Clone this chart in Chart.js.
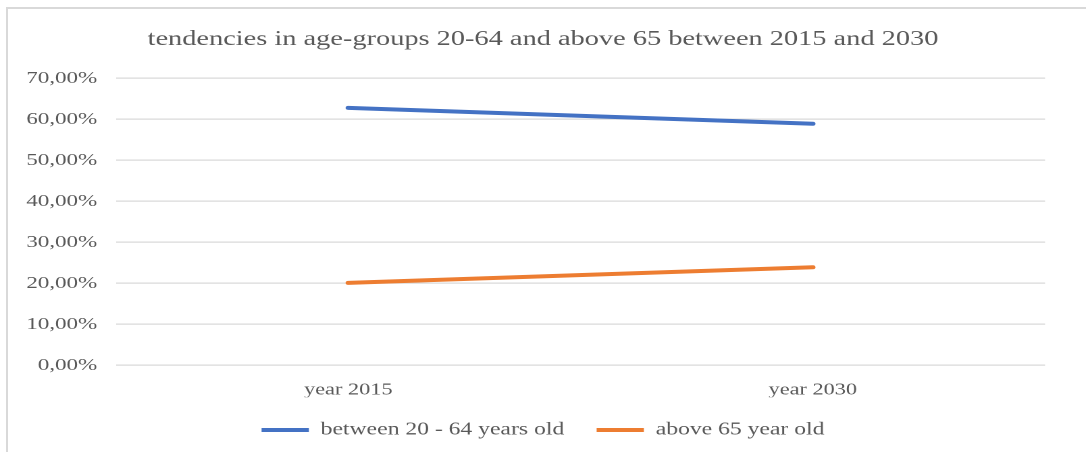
<!DOCTYPE html>
<html>
<head>
<meta charset="utf-8">
<script src="https://cdn.jsdelivr.net/npm/chart.js@4"></script>
<style>
  html, body { margin: 0; padding: 0; background: #ffffff; overflow: hidden; }
  body { width: 1086px; height: 452px; position: relative; }
  #frame {
    position: absolute; left: 6px; top: 7px; width: 1200px; height: 500px;
    border-left: 2px solid #d9d9d9; border-top: 2px solid #d9d9d9;
  }
  /* the chart is laid out on a narrower canvas and widened horizontally */
  #wrap {
    position: absolute; left: 0; top: 0; width: 804px; height: 452px;
    transform: scaleX(1.3507); transform-origin: 0 0;
  }
</style>
</head>
<body>
<div id="frame"></div>
<div id="wrap"><canvas id="chart"></canvas></div>
<script>
const categories = ['year 2015', 'year 2030'];
const seriesNames = ['between 20 - 64 years old', 'above 65 year old'];
const age20to64 = [62.8, 58.9];
const age65plus = [20.1, 23.9];
const yMin = 0, yMax = 70, yStep = 10;

const SERIF = "'Liberation Serif', 'Times New Roman', serif";
const TEXT = '#595959';

new Chart(document.getElementById('chart'), {
  type: 'line',
  data: {
    labels: categories,
    datasets: [
      {
        label: seriesNames[0],
        data: age20to64,
        borderColor: '#4472C4',
        backgroundColor: '#4472C4',
        borderWidth: 4,
        borderCapStyle: 'round',
        pointRadius: 0,
        pointHoverRadius: 0,
        tension: 0
      },
      {
        label: seriesNames[1],
        data: age65plus,
        borderColor: '#ED7D31',
        backgroundColor: '#ED7D31',
        borderWidth: 4,
        borderCapStyle: 'round',
        pointRadius: 0,
        pointHoverRadius: 0,
        tension: 0
      }
    ]
  },
  options: {
    responsive: true,
    maintainAspectRatio: false,
    animation: false,
    devicePixelRatio: 2,
    layout: { padding: { left: 0, right: 0, top: 0, bottom: 3.2 } },
    plugins: {
      tooltip: { enabled: false },
      title: {
        display: true,
        text: 'tendencies in age-groups 20-64 and above 65 between 2015 and 2030',
        color: TEXT,
        font: { family: SERIF, size: 21, weight: 'normal', lineHeight: 1.2 },
        padding: { top: 27, bottom: 26.1 }
      },
      legend: {
        position: 'bottom',
        labels: {
          color: TEXT,
          font: { family: SERIF, size: 17.5 },
          usePointStyle: true,
          pointStyle: 'line',
          pointStyleWidth: 35,
          padding: 24
        }
      }
    },
    scales: {
      x: {
        offset: true,
        grid: { display: false, drawTicks: false },
        border: { display: false },
        ticks: { color: TEXT, font: { family: SERIF, size: 16.5 }, padding: 15 },
        afterFit: (scale) => { scale.height = 32; }
      },
      y: {
        min: yMin,
        max: yMax,
        grid: { color: '#d9d9d9', lineWidth: 1.3, drawTicks: false },
        border: { display: false },
        ticks: {
          stepSize: yStep,
          color: TEXT,
          font: { family: SERIF, size: 17 },
          padding: 14,
          callback: (v) => v.toFixed(2).replace('.', ',') + '%'
        },
        afterFit: (scale) => { scale.width = 85.9; }
      },
      // empty margin on the right of the plot, keeps the title centred on the canvas
      yRight: {
        position: 'right',
        grid: { display: false, drawTicks: false },
        border: { display: false },
        ticks: { display: false },
        afterFit: (scale) => { scale.width = 30.3; }
      }
    }
  }
});
</script>
</body>
</html>
